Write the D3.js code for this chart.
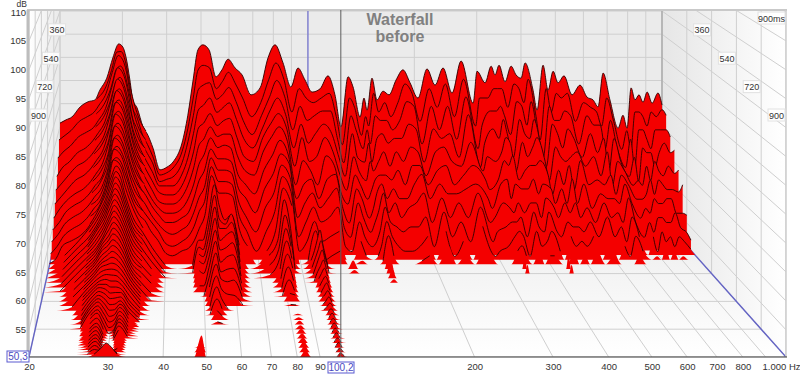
<!DOCTYPE html>
<html>
<head>
<meta charset="utf-8">
<script src="https://cdn.jsdelivr.net/npm/d3@7"></script>
<style>
	body { margin: 0; background: #fff; }
	text { font-family: "Liberation Sans", Arial, sans-serif; }
</style>
</head>
<body>
<div id="waterfall-placeholder"></div>
<script>
const dbTicks = [110, 105, 100, 95, 90, 85, 80, 75, 70, 65, 60, 55];
const hzTicks = [20, 30, 40, 50, 60, 70, 80, 90, 200, 300, 400, 500, 600, 700, 800, 1000];
const hzGrid = [20, 30, 40, 50, 60, 70, 80, 90, 100, 200, 300, 400, 500, 600, 700, 800, 900, 1000];
const timeGrid = [0, 180, 360, 540, 720, 900];
const timeLabels = [360, 540, 720, 900];
const floorDb = 50.3;

// slices 0..300 ms, one row per frequency of hzFull
const fullTimes = [0, 30, 60, 90, 120, 150, 180, 210, 240, 270, 300];
const hzFull = [20, 20.8, 21.6, 22.8, 24, 25.1, 25.9, 27.1, 28.2, 29.3, 30.1, 30.7, 31.5, 32.1, 33, 34.3, 35.4, 36.6, 38.3, 40.1, 41.7, 44.2, 45.9, 47.5, 49, 50.6, 52.7, 55.1, 57.3, 59.6, 62.4, 65.3, 69.2, 73.4, 77.3, 80.9, 85.2, 89.7, 93.9, 98.3, 102.9, 108.4, 114.1, 119.4, 124.2, 130, 134.3, 140.6, 144.2, 147.1, 151.9, 156.9, 163.2, 169.7, 177.6, 185.8, 194.5, 204.8, 217.2, 228.8, 241, 255.6, 271, 293, 300.6, 316.8, 329.4, 338, 346.8, 360.6, 375, 387.4, 400.2, 410.8, 432.6, 444, 461.6, 477, 492.8, 508.8, 529, 557.4, 587, 614.6, 639, 660, 682, 713, 752, 776, 797, 818, 839, 861, 884, 908, 938, 974, 1000];
const levelsByHz = [
	[70.8,68,65,62,60,58,56,54.5,53,51.5,50.5],
	[71.5,69,66.5,64,61.5,59.5,58,56,54.5,53,51.5],
	[72.1,70,67.5,65,63,61,59.5,58,56.5,55,54],
	[74.3,72,69.5,67,65,63,61,59.5,58,56.5,55],
	[75.4,73,70.5,68,66,64,62,60.5,59,57.5,56],
	[75.8,74,71.5,69.5,67.5,65.5,63.5,62,60.5,59,57.5],
	[77.9,75.5,73,71,69,67,65,63.5,62,60.5,59],
	[80.5,78,75.5,73.5,71.5,69.5,67.5,65.5,64,62.5,61],
	[84.9,82.5,80,78,76,74,72,70,68,66.5,65],
	[87.9,86.1,84.2,82.5,80.8,79.1,77.4,75.7,74,72.5,71.1],
	[87.2,85.3,83.4,81.7,80,78.4,76.7,75,73.4,72,70.7],
	[85.1,83.5,81.8,80,78.5,77,75.5,73.8,72.3,71,69.7],
	[80.1,79,77.8,76.3,75,73.7,72.3,71,69.7,68.3,67],
	[75.8,75,74,73,72,70.8,69.7,68.5,67.3,66,65],
	[74.1,73,71.5,70,69,68,67,66,65,63.5,62.5],
	[70,69,68,67,66,65,64,63,62,61,60],
	[68.2,67,66,65,64,63,62,61.5,60.5,59.5,59],
	[65.4,64.5,64,63,62,61,60,59.5,58.5,58,57],
	[60.7,60.5,60,60,59.5,58.5,58,57.5,56.5,56,55],
	[61.3,61,60.5,60,59,58,57,56,55,53.5,52.5],
	[62.4,62,61,60,59,58,57,56,54.5,53,52],
	[66.5,65.5,64,62.5,61,59.5,58,57,55.5,54,53],
	[72.5,70.5,68.5,66,64,62,60,58,56.5,55,53.5],
	[80.1,77,74,71,68,65.5,63,61,59,57,55],
	[86.6,83,79.5,76,73,70,67,64.5,62,60,57.5],
	[87.7,84,80.5,77,74,71.5,69,66.5,64,62,60],
	[86.6,83.5,81,78.5,76,74,72.5,71,70,69,68],
	[80.8,79,77.5,75.5,73.5,72,70.5,69,67.5,66,64.5],
	[82.3,80.5,78.5,76.5,74.5,72.5,71,69,67.5,66,64.5],
	[84.6,82.5,80,77.5,75,72.5,70.5,68.5,67,65.5,64],
	[82.7,80,77,74,71,68,65,63,61,59,57],
	[81.2,77,73,70,67,65,63,61,58,56,54],
	[76.9,73,70,68,66,64,61,58,55,52,0],
	[78.4,76,74,72,71,69,66,63,60,56,53],
	[84.9,81,78,76,74,72,69,66,63,60,57],
	[87.7,84.5,81.5,78.5,76,74,72,70,68.5,67,65.5],
	[83.8,81,78,75,73,71,69,68,66,64,62],
	[78.6,74,71,68,65,62,60,57,54,52,0],
	[82.7,79,76,73,71,67,63,60,57,54,51],
	[80.1,77,73,69,66,65,64,62,60,58,57],
	[77.5,76,74,71,67,62,60,59,57,54,51],
	[78.2,77,75,73,71,68,64,61,58,55,52],
	[81,78,75,71,68,66,65,63,60,56,53],
	[76.9,73,69,66,63,60,58,55,52,0,0],
	[70,67,64,62,60,58,55,53,51,0,0],
	[80.8,77,74,71,67,64,62,60,57,54,51],
	[78.6,75,71,66,64,62,60,57,54,51,0],
	[72.1,69,67,65,62,59,56,54,52,0,0],
	[76.2,73,71,69,66,61,58,56,53,51,0],
	[73.6,71,68,65,64,63,61,58,55,53,51],
	[80.5,78,74,70,66,64,63,62,60,58,56],
	[75.8,74,73,71,68,64,60,58,57,55,52],
	[77.7,76,73,69,65,63,62,60,56,53,0],
	[76.9,73,71,70,68,65,60,57,55,52,0],
	[80.1,76,73,70,66,62,60,59,56,52,0],
	[82.3,80,77,73,69,66,63,60,56,53,51],
	[79.5,78,76,72,68,66,65,62,58,55,52],
	[76.2,72,68,65,63,62,60,56,52,0,0],
	[82.5,79,76,72,68,65,63,61,59,56,54],
	[79,75,71,70,69,66,61,57,54,51,0],
	[82.7,80,76,71,66,62,61,60,57,54,52],
	[77.3,73,69,66,65,64,62,57,53,0,0],
	[84.2,81,78,75,70,66,63,62,60,57,54],
	[75.1,71,67,64,64,63,60,56,53,51,0],
	[82,77,72,69,67,61,58,57,55,52,0],
	[79.5,77,75,72,66,63,63,60,56,53,0],
	[83.1,79,75,70,68,67,64,59,57,55,53],
	[81.2,79,76,74,71,66,60,58,57,56,54],
	[83.3,79,74,71,70,68,63,60,58,55,52],
	[79.7,75,70,66,64,63,62,58,54,51,0],
	[83.1,80,77,74,70,65,62,60,59,56,53],
	[81.2,79,76,71,67,66,64,60,56,53,0],
	[80.5,76,72,70,69,66,61,57,55,54,52],
	[83.8,81,77,74,71,67,63,61,59,56,52],
	[77.9,73,68,67,66,64,62,59,55,52,0],
	[73.6,68,65,64,62,60,59,57,54,0,0],
	[83.3,79,76,73,69,65,62,60,57,55,53],
	[77.9,74,73,71,67,62,59,58,56,53,0],
	[82,78,73,68,66,66,64,60,56,54,52],
	[79.5,77,75,72,67,61,59,57,55,53,0],
	[81,78,74,70,68,67,63,59,57,55,53],
	[76.9,72,68,66,65,62,58,56,54,0,0],
	[79,76,74,71,67,63,61,60,58,55,52],
	[76.4,75,72,67,63,62,60,57,54,0,0],
	[75.8,74,72,70,68,64,60,58,56,53,0],
	[74.3,71,67,63,61,60,59,56,53,51,0],
	[81.6,77,73,70,66,64,63,61,58,55,52],
	[75.8,72,67,65,64,62,59,56,54,52,0],
	[69.7,66,63,62,61,59,56,53,0,0,0],
	[72.5,70,69,66,62,59,58,56,54,51,0],
	[69.7,66,63,61,61,60,57,54,51,0,0],
	[78.4,74,71,68,65,63,60,57,55,53,0],
	[75.8,74,71,67,62,60,59,57,53,0,0],
	[76.9,73,69,67,66,63,59,56,54,52,0],
	[75.3,71,67,64,64,62,60,56,52,0,0],
	[77.5,74,71,67,63,61,60,58,54,51,0],
	[75.1,73,71,69,65,61,57,55,53,0,0],
	[77.3,74.5,71,67,63.5,60.5,57,54,51.5,0,0],
	[74.7,73.3,69.5,67.5,64.2,62,56.6,52.4,0,0,0]
];

// later slices only keep the slow ridges, zero means below the floor
const hzLate = [20, 22, 24, 25.5, 27, 28, 29, 29.8, 30.6, 31.5, 33, 35, 37, 40, 43, 47, 48.8, 50, 51.5, 53.5, 55, 57, 59, 62, 66, 74, 78, 81, 83.5, 86, 90, 95, 97, 98.5, 100.2, 102, 105, 110, 118, 122, 126, 147, 151, 155, 333, 338, 343, 432, 438, 444];
const lateTimes = [330, 360, 390, 420, 450, 480, 510, 540, 570, 600, 630, 660, 690, 720, 750, 780, 810, 840, 870, 900];
const lateLevels = [
	[49.5,53,56,58.5,61.5,64,67.5,69.6,68.5,65,60.5,57.5,54.5,51,0, 51,56,56,60,67,63,60,61,55,0,53, 56,64,60,52,0,52,54,56,58,55,51,0, 0,52,0,0,54,0,0,53,0,0,53,0],
	[0,52.5,55.5,57.5,60.5,63,66,68.1,67,64,59.5,57,54,50.6,0, 50.5,55.5,55,59,65.7,61,60,62,54,0,52, 55,61.8,58,51,0,51.5,53.5,55,56.8,54.5,50.5,0, 0,51,0,0,53,0,0,52,0,0,52,0],
	[0,52,55,57,60,62,65,66.7,65.5,63,59,56,53.5,50.5,0, 0,55,54.5,58,64.2,60,60,61.2,53.5,0,51, 54,60,56.5,0,0,51,53,54.5,55.8,53.5,0,0, 0,0,0,0,52,0],
	[0,51.5,54.5,56.5,59,61,63.5,65.3,64.2,62,58,55.5,53,0,0, 0,54.5,54,57,62.8,58.5,59.5,60.2,53,0,0, 53,58.4,55,0,0,50.6,52.5,53.5,54.7,53,0,0, 0,0,0,0,51,0],
	[0,51,54,56,58,60,62.5,63.9,63,61,57,54.5,52.5,0,0, 0,53.5,53,56,61.3,57.5,58,58.9,52.5,0,0, 52,56.7,54,0,0,0,52,53,54,52.5,0,0],
	[0,50.5,53.5,55.5,57.5,59.5,61,62.5,61.8,60,56,54,52,0,0, 0,51.5,51.5,55,60,56,57,57.4,52,0,0, 51,55.1,52.5,0,0,0,51.5,52.5,53.3,52,0,0],
	[0,0,53,55,57,59,60,61.1,60.5,59,55.5,53,51,0,0, 0,0,50.5,54,58.6,55,55.5,55.7,51.5,0,0, 50.5,53.5,51.5,0,0,0,51,52,52.9,51.5,0,0],
	[0,0,52.5,54.5,56.5,58,59,59.7,59.2,58,55,52.5,50.5,0,0, 0,0,0,53,57.3,54.5,54,54.3,51,0,0, 0,51.8,51.5,0,0,0,51,51.5,52.3,51.2,0,0],
	[0,0,52,54,56,57.5,58,58.3,58,57,54.5,52,0,0,0, 0,0,0,52,55.9,53.5,52.5,52.3,50.5,0,0, 0,50.6,50.5,0,0,0,50.6,51.2,52,51,0,0],
	[0,0,51,53.5,55.5,56.5,57,56.9,56.8,56,54,51.5,0,0,0, 0,0,0,51,54.7,52.5,50.6,0,0,0,0, 0,0,0,0,0,0,50.5,51,51.7,51,0,0],
	[0,0,0,53,55,56,56,55.5,55.5,55.2,53,51,0,0,0, 0,0,0,50.5,53.3,51.5,0,0,0,0,0, 0,0,50.6,0,0,0,0,50.8,51.5,50.8,0,0],
	[0,0,0,52,54.5,55.5,55,54.2,54.3,54.5,52.5,50.5,0,0,0, 0,0,0,0,52,51,0,0,0,0,0, 0,0,50.8,0,0,0,0,50.7,51.5,50.7,0,0],
	[0,0,0,51,54,55,54,52.9,53,54,52,0,0,0,0, 0,0,0,0,50.8,50.5,0,0,0,0,0, 0,0,51,0,0,0,0,50.7,51.4,50.7,0,0],
	[0,0,0,50.5,53.5,54.5,53,51.6,52,53.5,51.5,0,0,0,0, 0,0,0,0,0,0,0,0,0,0,0, 0,0,51,0,0,0,0,50.6,51.4,50.6,0,0],
	[0,0,0,0,53,54,52,50.4,51,53,51,0,0,0,0, 0,0,0,0,0,0,0,0,0,0,0, 0,0,51.2,0,0,0,0,50.6,51.3,50.6,0,0],
	[0,0,0,0,52,53,51,0,50.5,52.5,50.6,0,0,0,0, 0,0,0,0,0,0,0,0,0,0,0, 0,0,51.2,0,0,0,0,50.5,51.3,50.5,0,0],
	[0,0,0,0,51.5,52.5,50.5,0,0,52,0,0,0,0,0, 0,0,0,0,0,0,0,0,0,0,0, 0,0,51.3,0,0,0,0,50.5,51.2,50.5,0,0],
	[0,0,0,0,51,52,50.5,0,0,51.5,0,0,0,0,0, 0,50.8,0,0,0,0,0,0,0,0,0, 0,0,51.4,0,0,0,0,50.4,51.2,50.4,0,0],
	[0,0,0,0,50.5,51.5,50.5,0,50.4,51,0,0,0,0,0, 0,52.5,0,0,0,0,0,0,0,0,0, 0,0,51.4,0,0,0,0,50.4,51,50.4,0,0],
	[0,0,0,0,0,50.8,51.8,52.7,52,50.8,0,0,0,0,0, 0,54,0,0,0,0,0,0,0,0,0, 0,0,51.5,0,0,0,0,50.4,51,50.4,0,0]
];

// extra slices of the 30 Hz ridge, its lines are much denser than the rest
const hzCore = [25.5, 27, 28, 29, 29.8, 30.6, 31.5, 33, 35];
const coreTimes = [15, 45, 75, 105, 135, 165, 195, 225, 255, 285, 315, 345, 375, 405, 435, 465, 495, 525, 555, 585, 615, 645, 675, 705, 735, 765, 795, 825, 855, 885];
const coreLevels = [
	[76.5,79,82.5,86.5,86.6,84.6,79.5,73.5,69.5],
	[74,76.5,79.5,83.5,84.2,82.5,78.4,72.2,68.5],
	[72,74.5,77.5,81.5,82.5,80.8,77,70.8,67.5],
	[70,72.5,75.5,80,80.8,79.2,75.7,69.5,66.5],
	[68,70.5,73.5,78.5,79.2,77.8,74.4,68.5,65.5],
	[66,68.5,71.5,76.8,77.6,76.3,73,67.5,64.5],
	[64,66.5,69.5,75,75.9,74.7,71.7,66.5,63.5],
	[62.5,65,68,73.3,74.2,73,70.3,65.5,62.5],
	[61,63,66.5,71.8,72.7,71.6,69,64.2,61.5],
	[59.5,61.8,65.2,70.4,71.2,70.3,67.7,63,60.5],
	[58.7,62,64.7,68.3,70.3,69.3,66,61.8,58],
	[58,61,63.5,66.8,68.9,67.8,64.5,60,57.3],
	[57.2,60.2,62.5,65.5,67.4,66.3,63.5,59.2,56.5],
	[56.8,59.5,61.5,64.3,66,64.9,62.5,58.5,55.8],
	[56.3,58.5,60.5,63,64.6,63.6,61.5,57.5,55],
	[55.8,57.8,59.8,61.8,63.2,62.4,60.5,56.5,54.5],
	[55.3,57.2,59.2,60.5,61.8,61.2,59.5,55.8,53.5],
	[54.8,56.8,58.5,59.5,60.4,59.9,58.5,55.3,52.8],
	[54.3,56.2,57.8,58.5,59,58.6,57.5,54.8,52.2],
	[53.8,55.8,57,57.5,57.6,57.4,56.5,54.2,51.8],
	[53.2,55.2,56.2,56.5,56.2,56.2,55.6,53.5,51.2],
	[52.5,54.8,55.8,55.5,54.8,54.9,54.9,52.8,50.8],
	[51.5,54.2,55.2,54.5,53.5,53.6,54.2,52.2,50.4],
	[50.8,53.8,54.8,53.5,52.2,52.5,53.8,51.8,0],
	[0,53.2,54.2,52.5,51,51.5,53.2,51.2,0],
	[0,52.5,53.5,51.5,0,50.8,52.8,50.8,0],
	[0,51.8,52.8,50.8,0,50.4,52.2,0,0],
	[0,51.2,52.2,50.5,0,0,51.8,0,0],
	[0,50.8,51.8,50.5,0,0,51.2,0,0],
	[0,50.4,51.2,51,51.5,51.2,50.6,0,0]
];

function drawWaterfall() {
	const svg = d3.select("#waterfall-placeholder")
		.append("svg")
		.attr("width", 800)
		.attr("height", 375)
		.style("display", "block");

	// front plane of the box (t = 900) and back plane (t = 0)
	const xFront = d3.scaleLog().domain([20, 1000]).range([29, 786]);
	const xBack = d3.scaleLog().domain([20, 1000]).range([60, 662]);
	const yFront = d3.scaleLinear().domain([floorDb, 110]).range([357, 12]);
	const yBack = d3.scaleLinear().domain([floorDb, 110]).range([218, -58.4]);
	const depth = d3.scaleLinear().domain([0, 900]).range([0, 1]);

	const px = (hz, t) => xBack(hz) + (xFront(hz) - xBack(hz)) * depth(t);
	const py = (db, t) => yBack(db) + (yFront(db) - yBack(db)) * depth(t);

	const defs = svg.append("defs");
	defs.append("clipPath").attr("id", "plot-clip")
		.append("rect").attr("x", 29).attr("y", 10).attr("width", 757).attr("height", 347);

	const floorGrad = defs.append("linearGradient").attr("id", "floor-grad")
		.attr("x1", 0).attr("x2", 0).attr("y1", 0).attr("y2", 1);
	floorGrad.append("stop").attr("offset", "0%").attr("stop-color", "#ececec");
	floorGrad.append("stop").attr("offset", "100%").attr("stop-color", "#ffffff");

	const rightGrad = defs.append("linearGradient").attr("id", "right-grad");
	rightGrad.append("stop").attr("offset", "0%").attr("stop-color", "#e6e6e6");
	rightGrad.append("stop").attr("offset", "100%").attr("stop-color", "#ffffff");

	const leftGrad = defs.append("linearGradient").attr("id", "left-grad");
	leftGrad.append("stop").attr("offset", "0%").attr("stop-color", "#ffffff");
	leftGrad.append("stop").attr("offset", "100%").attr("stop-color", "#e9e9e9");

	const box = svg.append("g").attr("clip-path", "url(#plot-clip)");
	const poly = points => points.map(p => p.join(",")).join(" ");

	box.append("rect")
		.attr("x", px(20, 0)).attr("y", 10)
		.attr("width", px(1000, 0) - px(20, 0))
		.attr("height", py(floorDb, 0) - 10)
		.attr("fill", "#ebebeb");
	box.append("polygon")
		.attr("points", poly([[px(20, 0), py(floorDb, 0)], [px(1000, 0), py(floorDb, 0)], [px(1000, 900), py(floorDb, 900)], [px(20, 900), py(floorDb, 900)]]))
		.attr("fill", "url(#floor-grad)");
	box.append("polygon")
		.attr("points", poly([[px(20, 900), 10], [px(20, 0), 10], [px(20, 0), py(floorDb, 0)], [px(20, 900), py(floorDb, 900)]]))
		.attr("fill", "url(#left-grad)");
	box.append("polygon")
		.attr("points", poly([[px(1000, 0), 10], [px(1000, 900), 10], [px(1000, 900), py(floorDb, 900)], [px(1000, 0), py(floorDb, 0)]]))
		.attr("fill", "url(#right-grad)");

	const grid = box.append("g").attr("fill", "none").attr("stroke", "#cfcfcf").attr("stroke-width", 1);
	const seg = (x1, y1, x2, y2) => grid.append("line").attr("x1", x1).attr("y1", y1).attr("x2", x2).attr("y2", y2);

	dbTicks.forEach(function(db) {
		seg(px(20, 900), py(db, 900), px(20, 0), py(db, 0));
		seg(px(20, 0), py(db, 0), px(1000, 0), py(db, 0));
		seg(px(1000, 0), py(db, 0), px(1000, 900), py(db, 900));
	});
	hzGrid.forEach(function(hz) {
		seg(px(hz, 0), 10, px(hz, 0), py(floorDb, 0));
		seg(px(hz, 0), py(floorDb, 0), px(hz, 900), py(floorDb, 900));
	});
	timeGrid.forEach(function(t) {
		seg(px(20, t), 10, px(20, t), py(floorDb, t));
		seg(px(20, t), py(floorDb, t), px(1000, t), py(floorDb, t));
		seg(px(1000, t), py(floorDb, t), px(1000, t), 10);
	});

	box.append("line")
		.attr("x1", px(1000, 0)).attr("x2", px(1000, 0)).attr("y1", 10).attr("y2", py(floorDb, 0))
		.attr("stroke", "#999");

	// cursors lying in the box
	const cursorBlue = "#6464c4";
	box.append("line")
		.attr("x1", px(100.2, 0)).attr("x2", px(100.2, 0)).attr("y1", 10).attr("y2", py(floorDb, 0))
		.attr("stroke", "#5a5ad0");
	[20, 1000].forEach(function(hz) {
		box.append("line")
			.attr("x1", px(hz, 0)).attr("y1", py(floorDb, 0))
			.attr("x2", px(hz, 900)).attr("y2", py(floorDb, 900))
			.attr("stroke", cursorBlue).attr("stroke-width", 1.4);
	});

	// all slices, far to near
	const slices = [];
	fullTimes.forEach(function(t, i) {
		slices.push({ t: t, hz: hzFull, db: levelsByHz.map(row => row[i]) });
	});
	lateTimes.forEach(function(t, i) {
		slices.push({ t: t, hz: hzLate, db: lateLevels[i] });
	});
	coreTimes.forEach(function(t, i) {
		slices.push({ t: t, hz: hzCore, db: coreLevels[i] });
	});
	slices.sort((a, b) => a.t - b.t);

	const sliceGroups = box.append("g").selectAll("g")
		.data(slices)
		.join("g");

	sliceGroups.append("path")
		.attr("fill", "#f40000")
		.attr("d", function(s) {
			const points = s.hz.map((hz, i) => [hz, Math.max(s.db[i] || 0, floorDb)]);
			return d3.area()
				.curve(d3.curveMonotoneX)
				.x(d => px(d[0], s.t))
				.y0(py(floorDb, s.t))
				.y1(d => py(d[1], s.t))(points);
		});

	sliceGroups.append("path")
		.attr("fill", "none")
		.attr("stroke", "#300000")
		.attr("stroke-opacity", 0.9)
		.attr("stroke-width", 1)
		.attr("d", function(s) {
			const points = s.hz.map((hz, i) => [hz, s.db[i] || 0]);
			return d3.line()
				.curve(d3.curveMonotoneX)
				.defined(d => d[1] > floorDb)
				.x(d => px(d[0], s.t))
				.y(d => py(d[1], s.t))(points);
		});

	// frame
	svg.append("line").attr("x1", 27).attr("x2", 787).attr("y1", 10).attr("y2", 10)
		.attr("stroke", "#c9c9c9").attr("stroke-width", 2);
	svg.append("line").attr("x1", 28).attr("x2", 28).attr("y1", 10).attr("y2", 357)
		.attr("stroke", "#bdbdbd").attr("stroke-width", 3);
	svg.append("line").attr("x1", 786).attr("x2", 786).attr("y1", 10).attr("y2", 357)
		.attr("stroke", "#cccccc").attr("stroke-width", 1.5);
	svg.append("line").attr("x1", 27).attr("x2", 787).attr("y1", 357).attr("y2", 357)
		.attr("stroke", "#333").attr("stroke-width", 1.2);

	// frequency cursor over everything
	svg.append("line").attr("x1", xFront(100.2)).attr("x2", xFront(100.2)).attr("y1", 10).attr("y2", 357)
		.attr("stroke", "#5e5e5e").attr("stroke-width", 1);

	// axes
	const yAxis = svg.append("g")
		.attr("transform", "translate(26,0)")
		.call(d3.axisLeft(yFront).tickValues(dbTicks).tickSize(0).tickPadding(0));
	yAxis.select(".domain").remove();
	yAxis.selectAll("text").attr("font-size", 9.5).attr("fill", "#333").style("font-family", "Liberation Sans");

	const xAxis = svg.append("g")
		.attr("transform", "translate(0,363.5)")
		.call(d3.axisBottom(xFront).tickValues(hzTicks).tickSize(0).tickPadding(0)
			.tickFormat(d => d == 1000 ? "1.000 Hz" : String(d)));
	xAxis.select(".domain").remove();
	xAxis.selectAll("text").attr("font-size", 9.5).attr("fill", "#333").style("font-family", "Liberation Sans");
	xAxis.selectAll("text").filter(d => d == 1000).attr("text-anchor", "end").attr("x", 14);

	svg.append("text").attr("x", 27).attr("y", 7).attr("text-anchor", "end")
		.attr("font-size", 8.5).attr("fill", "#333").text("dB");

	// time labels on both walls
	const labelY = d3.scaleLinear().domain([0, 900]).range([-27, 115]);
	const boxedLabel = function(x, y, anchor, txt) {
		const w = txt.length * 5 + 2;
		const left = anchor == "end" ? x - w : x;
		svg.append("rect").attr("x", left).attr("y", y - 6).attr("width", w).attr("height", 12)
			.attr("fill", "#fff").attr("fill-opacity", 0.85).attr("stroke", "#e2e2e2");
		svg.append("text").attr("x", left + w / 2).attr("y", y + 3.5).attr("text-anchor", "middle")
			.attr("font-size", 9).attr("fill", "#333").text(txt);
	};
	timeLabels.forEach(function(t) {
		boxedLabel(px(20, t) + 1, labelY(t), "start", String(t));
		boxedLabel(px(1000, t) - 1, labelY(t), "end", String(t));
	});
	boxedLabel(785, 18, "end", "900ms");

	// title
	svg.append("text").attr("x", 400).attr("y", 25).attr("text-anchor", "middle")
		.attr("font-size", 16).attr("font-weight", "bold").attr("fill", "#808080").text("Waterfall");
	svg.append("text").attr("x", 400).attr("y", 42).attr("text-anchor", "middle")
		.attr("font-size", 16).attr("font-weight", "bold").attr("fill", "#808080").text("before");

	// cursor readouts
	const readout = function(x, y, w, txt) {
		svg.append("rect").attr("x", x).attr("y", y).attr("width", w).attr("height", 11)
			.attr("fill", "#fff").attr("stroke", "#5a5ad0");
		svg.append("text").attr("x", x + w / 2).attr("y", y + 9).attr("text-anchor", "middle")
			.attr("font-size", 10).attr("fill", "#4a4ac0").text(txt);
	};
	readout(7, 351, 22, "50,3");
	readout(328, 362, 26, "100,2");
}

drawWaterfall();
</script>
</body>
</html>
